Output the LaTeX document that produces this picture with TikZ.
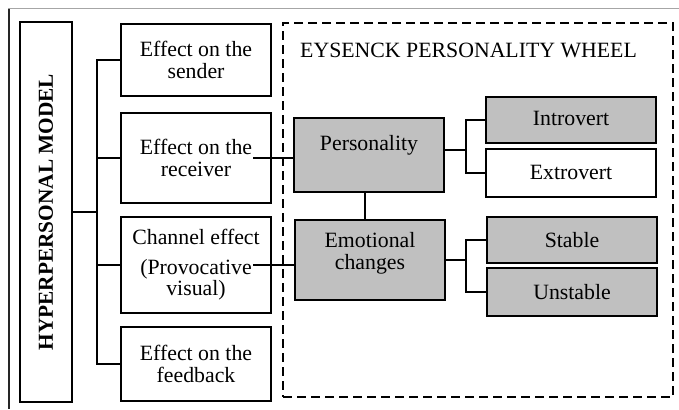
\documentclass[tikz,border=0pt]{standalone}
\usepackage{fontspec}
\setmainfont{Liberation Serif}
\begin{document}
\begin{tikzpicture}[x=1bp,y=-1bp,
  every node/.style={font=\fontsize{21.8bp}{21.5bp}\selectfont},
  box/.style={draw=black, line width=2bp, rectangle, inner sep=0pt, align=center, minimum width=150bp},
  gbox/.style={box, fill=gboxfill},
  conn/.style={line width=2bp},
]
\definecolor{gboxfill}{RGB}{192,192,192}
\useasboundingbox (0,0) rectangle (679,409);
% outer frame
\draw[gray!70, line width=1bp] (8,8.5) -- (679,8.5);
\draw[black!85, line width=1.3bp] (9,8.5) -- (9,409);
% left model
\node[box, rotate=90, minimum width=380bp, minimum height=52bp, font=\fontsize{21.3bp}{21bp}\selectfont\bfseries] (hyp) at (46,212) {HYPERPERSONAL MODEL};
\node[box, minimum height=72bp] (send) at (196,60) {Effect on the\\sender};
\node[box, minimum height=90bp] (recv) at (196,158) {Effect on the\\receiver};
\node[box, minimum height=96bp] (chan) at (196,265) {Channel effect\\[8bp](Provocative\\visual)};
\node[box, minimum height=74bp] (feed) at (196,364) {Effect on the\\feedback};
% wheel
\node[draw, line width=2bp, dash pattern=on 9bp off 5bp, minimum width=390bp, minimum height=374bp, inner sep=0pt] (wheel) at (478,210) {};
\node[anchor=west, inner sep=0pt] (title) at (300,50) {EYSENCK PERSONALITY WHEEL};
\node[gbox, minimum width=150bp, minimum height=74bp] (pers) at (369,155) {};
\node (perst) at (369,145) {Personality};
\node[gbox, minimum width=150bp, minimum height=80bp] (emo) at (370,260) {};
\node[align=center, inner sep=0pt] (emot) at (370,253.5) {Emotional\\changes};
\node[gbox, minimum width=170bp, minimum height=46bp] (intro) at (571,120) {\raisebox{3bp}{Introvert}};
\node[box, minimum width=170bp, minimum height=48bp] (extro) at (571,173) {\raisebox{2bp}{Extrovert}};
\node[gbox, minimum width=170bp, minimum height=46bp] (stab) at (572,240) {Stable};
\node[gbox, minimum width=170bp, minimum height=48bp] (unst) at (572,292) {Unstable};
% connectors left
\coordinate (bx) at (97,0);
\draw[conn] (send.west) -- (send.west -| bx) -- (feed.west -| bx) -- (feed.west);
\draw[conn] (recv.west) -- (recv.west -| bx);
\draw[conn] (chan.west) -- (chan.west -| bx);
\draw[conn] (hyp.south) -- (hyp.south -| bx);
% cross links
\coordinate (rs) at (253,158);
\coordinate (cs) at (253,265);
\draw[conn] (rs) -- (rs -| pers.west);
\draw[conn] (cs) -- (cs -| emo.west);
\draw[conn] ([xshift=-4bp]pers.south) -- ([xshift=-4bp]pers.south |- emo.north);
% right bus
\coordinate (rb) at (466,0);
\coordinate (pe) at (444,150);
\draw[conn] (pe -| pers.east) -- (pe -| rb);
\draw[conn] (intro.west) -- (intro.west -| rb) -- (extro.west -| rb) -- (extro.west);
\draw[conn] (emo.east) -- (emo.east -| rb);
\draw[conn] (stab.west) -- (stab.west -| rb) -- (unst.west -| rb) -- (unst.west);
\end{tikzpicture}
\end{document}
